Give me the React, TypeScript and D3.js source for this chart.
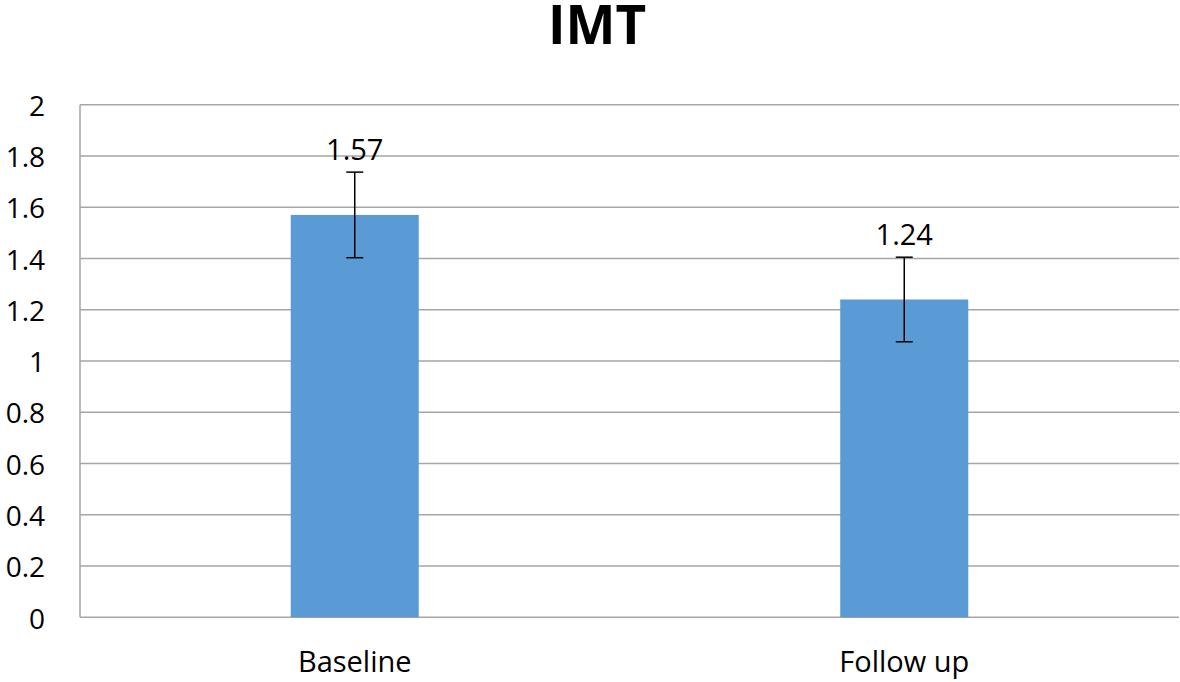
import React from "react";
import * as d3 from "d3";

const categories = ["Baseline", "Follow up"];
const values = [1.57, 1.24];
const errors = [0.167, 0.165];
const valueLabels = ["1.57", "1.24"];
const yTicks = [0, 0.2, 0.4, 0.6, 0.8, 1, 1.2, 1.4, 1.6, 1.8, 2];
const title = "IMT";

const W = 1180;
const H = 682;
const left = 80;
const right = 1179;
const top = 104.7;
const bottom = 617.3;
const font = "'Open Sans', 'Noto Sans', sans-serif";

export default function App() {
  const x = d3.scaleBand<string>().domain(categories).range([left, right]).paddingInner(0).paddingOuter(0);
  const y = d3.scaleLinear().domain([0, 2]).range([bottom, top]);
  const barW = x.bandwidth() * 0.233;
  const cap = 8.5;

  return (
    <div style={{ position: "absolute", left: 0, top: 0 }}>
      <svg width={W} height={H} style={{ display: "block", background: "#fff" }}>
        <text x={597} y={44} textAnchor="middle" fontFamily={font} fontWeight="bold" fontSize={53} fill="#000">
          {title}
        </text>
        {yTicks.map((t) => (
          <g key={t}>
            <line x1={left} x2={right} y1={y(t)} y2={y(t)} stroke="#a6a6a6" strokeWidth={1.5} />
            <text x={45} y={y(t)} dy="0.4em" textAnchor="end" fontFamily={font} fontSize={28} fill="#000">
              {d3.format("~g")(t)}
            </text>
          </g>
        ))}
        <line x1={left} x2={left} y1={top} y2={bottom} stroke="#a6a6a6" strokeWidth={1.5} />
        {categories.map((c, i) => {
          const cx = (x(c) as number) + x.bandwidth() / 2;
          const v = values[i];
          const e = errors[i];
          return (
            <g key={c}>
              <rect x={cx - barW / 2} y={y(v)} width={barW} height={y(0) - y(v)} fill="#5b9bd5" />
              <line x1={cx} x2={cx} y1={y(v + e)} y2={y(v - e)} stroke="#000" strokeWidth={1.5} />
              <line x1={cx - cap} x2={cx + cap} y1={y(v + e)} y2={y(v + e)} stroke="#000" strokeWidth={1.5} />
              <line x1={cx - cap} x2={cx + cap} y1={y(v - e)} y2={y(v - e)} stroke="#000" strokeWidth={1.5} />
              <text x={cx} y={y(v + e) - 12} textAnchor="middle" fontFamily={font} fontSize={29} fill="#000">
                {valueLabels[i]}
              </text>
              <text x={cx} y={672} textAnchor="middle" fontFamily={font} fontSize={29} fill="#000">
                {c}
              </text>
            </g>
          );
        })}
      </svg>
    </div>
  );
}
